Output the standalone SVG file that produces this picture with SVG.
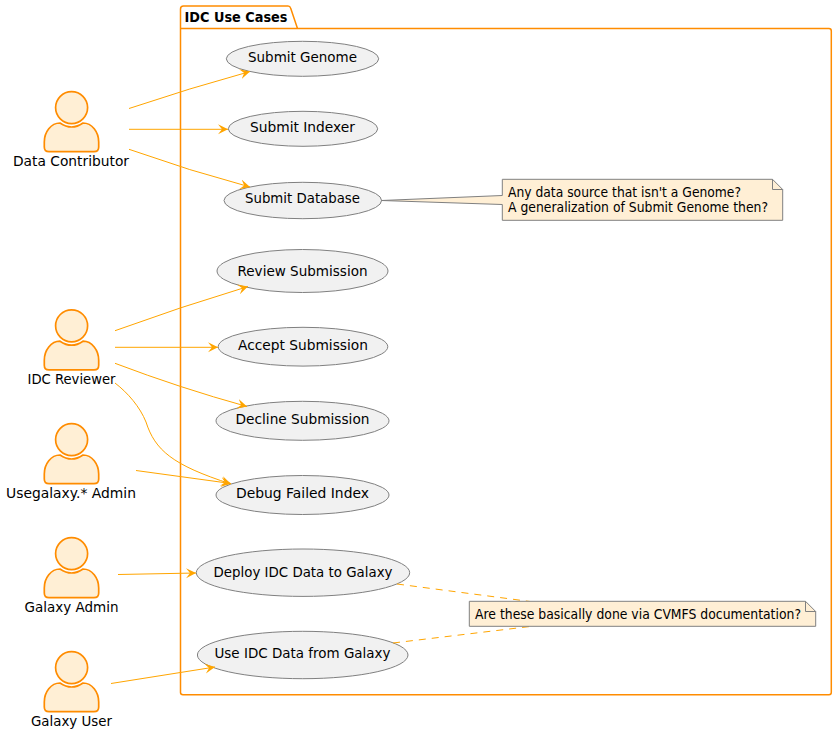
<svg xmlns="http://www.w3.org/2000/svg" width="837" height="733" viewBox="0 0 837 733">
<style>
text{font-family:"DejaVu Sans",sans-serif;font-size:14.5px;fill:#000;text-anchor:middle}
.n{font-size:13.5px;text-anchor:start}
.t{font-weight:bold;text-anchor:start}
.pkg{fill:none;stroke:#ff8c00;stroke-width:1.5;stroke-linejoin:round}
.act{fill:#ffefd5;stroke:#ff8c00;stroke-width:1.7}
.uc{fill:#f1f1f1;stroke:#808080;stroke-width:1}
.note{fill:#ffefd5;stroke:#808080;stroke-width:1}
.fold{fill:none;stroke:#808080;stroke-width:1}
.c{fill:none;stroke:#ffa500;stroke-width:1;marker-end:url(#a)}
.d{fill:none;stroke:#ffa500;stroke-width:1;stroke-dasharray:7 6}
</style>
<defs>
<marker id="a" markerUnits="userSpaceOnUse" markerWidth="12" markerHeight="12" refX="10" refY="5" orient="auto" viewBox="0 0 12 10"><path d="M0 0L10 5L0 10L4 5Z" fill="#ffa500"/></marker>
<g id="actor"><circle cx="71.6" cy="107.6" r="16"/><path d="M60 123Q71.6 131 83 123C92 123 98.7 132 98.7 142V147Q98.7 151.7 94 151.7H49Q44.3 151.7 44.3 147V142C44.3 132 51 123 60 123Z"/></g>
</defs>
<g id="package"><path class="pkg" d="M180.500 28.500V9Q180.500 6 183.500 6H288Q290 6 290.600 8L297.500 28.500H829Q831.300 28.500 831.300 31V692.500Q831.300 694.700 829 694.700H183Q180.500 694.700 180.500 692.500ZM180.500 28.500H297.500"/><text class="t" x="184.500" y="22" textLength="103" lengthAdjust="spacingAndGlyphs">IDC Use Cases</text></g>
<g id="uc-genome"><ellipse class="uc" cx="302.500" cy="58.800" rx="76.200" ry="17.500"/><text x="302.500" y="62" textLength="109" lengthAdjust="spacingAndGlyphs">Submit Genome</text></g>
<g id="uc-indexer"><ellipse class="uc" cx="303" cy="128.800" rx="74.700" ry="17.500"/><text x="302.500" y="132" textLength="105" lengthAdjust="spacingAndGlyphs">Submit Indexer</text></g>
<g id="uc-database"><ellipse class="uc" cx="302.800" cy="200.500" rx="78.800" ry="18.200"/><text x="302.500" y="203" textLength="115" lengthAdjust="spacingAndGlyphs">Submit Database</text></g>
<g id="uc-review"><ellipse class="uc" cx="302.500" cy="271" rx="85.500" ry="21.500"/><text x="302.500" y="276" textLength="130" lengthAdjust="spacingAndGlyphs">Review Submission</text></g>
<g id="uc-accept"><ellipse class="uc" cx="303" cy="346.700" rx="84.800" ry="19.400"/><text x="303" y="350" textLength="130" lengthAdjust="spacingAndGlyphs">Accept Submission</text></g>
<g id="uc-decline"><ellipse class="uc" cx="302.500" cy="420.800" rx="86.500" ry="19.500"/><text x="302.500" y="424" textLength="134" lengthAdjust="spacingAndGlyphs">Decline Submission</text></g>
<g id="uc-debug"><ellipse class="uc" cx="302.500" cy="495" rx="86.500" ry="19.500"/><text x="302.500" y="498" textLength="133" lengthAdjust="spacingAndGlyphs">Debug Failed Index</text></g>
<g id="uc-deploy"><ellipse class="uc" cx="303" cy="572.700" rx="106.700" ry="23.700"/><text x="303" y="577" textLength="179" lengthAdjust="spacingAndGlyphs">Deploy IDC Data to Galaxy</text></g>
<g id="uc-use"><ellipse class="uc" cx="302.700" cy="655" rx="105.300" ry="23.700"/><text x="302.500" y="658" textLength="176" lengthAdjust="spacingAndGlyphs">Use IDC Data from Galaxy</text></g>
<g id="connectors">
<path class="c" d="M129 108.500Q190 88 250 71.500"/>
<path class="c" d="M129 129.300H228"/>
<path class="c" d="M129 149.300Q190 171 250 187"/>
<path class="c" d="M115 330.700Q180 307 248 286.500"/>
<path class="c" d="M115 347.300H218"/>
<path class="c" d="M115 363.300Q180 388 247 406.500"/>
<path class="c" d="M115 383C128 393 140 407 146 422C155 450 172 465 231 484"/>
<path class="c" d="M136 470.500L231 483.500"/>
<path class="c" d="M118 574.500L196 573"/>
<path class="c" d="M111 683.500L215 667"/>
<path class="d" d="M397 584L530 601.500"/>
<path class="d" d="M393 643L530 626.500"/>
</g>
<g id="actor-contributor" class="act"><use href="#actor"/></g><text x="71" y="166" textLength="116" lengthAdjust="spacingAndGlyphs">Data Contributor</text>
<g id="actor-reviewer" class="act"><use href="#actor" y="218.200"/></g><text x="71.500" y="384" textLength="88" lengthAdjust="spacingAndGlyphs">IDC Reviewer</text>
<g id="actor-ugadmin" class="act"><use href="#actor" y="332"/></g><text x="71" y="498" textLength="130" lengthAdjust="spacingAndGlyphs">Usegalaxy.* Admin</text>
<g id="actor-gadmin" class="act"><use href="#actor" y="446"/></g><text x="71.500" y="612" textLength="94" lengthAdjust="spacingAndGlyphs">Galaxy Admin</text>
<g id="actor-guser" class="act"><use href="#actor" y="560"/></g><text x="71.500" y="726" textLength="81" lengthAdjust="spacingAndGlyphs">Galaxy User</text>
<g id="note-1"><path class="note" d="M381.500 200.500L502.300 195.500V179.300H772.500L782.700 189.500V220.300H502.300V204.500Z"/><path class="fold" d="M772.500 179.300V189.500H782.700"/><text class="n" x="508" y="197" textLength="233" lengthAdjust="spacingAndGlyphs">Any data source that isn't a Genome?</text><text class="n" x="508" y="212" textLength="260" lengthAdjust="spacingAndGlyphs">A generalization of Submit Genome then?</text></g>
<g id="note-2"><path class="note" d="M469.300 601.300H805.500L815.700 611.500V626.300H469.300Z"/><path class="fold" d="M805.500 601.300V611.500H815.700"/><text class="n" x="475" y="619" textLength="326" lengthAdjust="spacingAndGlyphs">Are these basically done via CVMFS documentation?</text></g>
</svg>
